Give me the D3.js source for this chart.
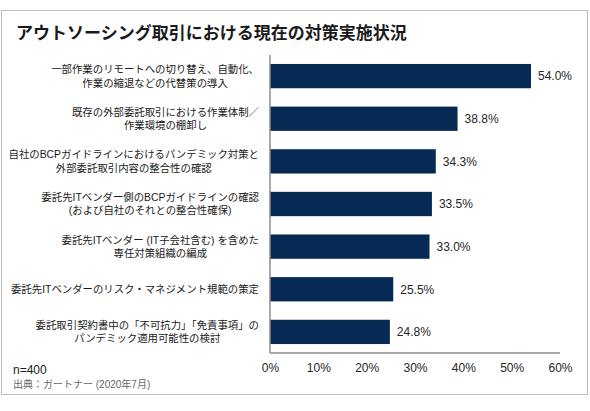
<!DOCTYPE html>
<html lang="ja">
<head>
    <meta charset="UTF-8">
    <title>アウトソーシング取引における現在の対策実施状況</title>
    <script src="https://d3js.org/d3.v7.min.js"></script>
    <style>
        body {
            margin: 0;
            background: #fff;
            font-family: "Liberation Sans", Arial, "Noto Sans CJK JP", sans-serif;
        }
        .frame {
            fill: none;
            stroke: #bdbdbd;
        }
        .title {
            font-family: "Liberation Sans", "Noto Sans CJK JP", sans-serif;
            font-size: 17px;
            font-weight: bold;
            fill: #1a1a1a;
        }
        .cat-label {
            font-size: 10.4px;
            fill: #1a1a1a;
        }
        .bar {
            fill: #062a54;
        }
        .value-label {
            font-size: 12px;
            fill: #262626;
        }
        .x-axis text {
            font-size: 12px;
            fill: #262626;
        }
        .axis-line {
            stroke: #8c8c8c;
            stroke-width: 1.5;
        }
        .note {
            font-size: 12px;
            fill: #1a1a1a;
        }
        .source {
            font-size: 10px;
            fill: #666;
        }
    </style>
</head>
<body>
    <svg width="590" height="411"></svg>
    <script>
        // 項目 (各行ごとに分割)
        const categories = [
            ["一部作業のリモートへの切り替え、自動化、", "作業の縮退などの代替策の導入"],
            ["既存の外部委託取引における作業体制／", "作業環境の棚卸し"],
            ["自社のBCPガイドラインにおけるパンデミック対策と", "外部委託取引内容の整合性の確認"],
            ["委託先ITベンダー側のBCPガイドラインの確認", "(および自社のそれとの整合性確保)"],
            ["委託先ITベンダー (IT子会社含む) を含めた", "専任対策組織の編成"],
            ["委託先ITベンダーのリスク・マネジメント規範の策定"],
            ["委託取引契約書中の「不可抗力」「免責事項」の", "パンデミック適用可能性の検討"]
        ];
        const values = [54.0, 38.8, 34.3, 33.5, 33.0, 25.5, 24.8];
        const ticks = [0, 10, 20, 30, 40, 50, 60];

        const titleText = "アウトソーシング取引における現在の対策実施状況";
        const noteText = "n=400";
        const sourceText = "出典：ガートナー (2020年7月)";

        const svg = d3.select("svg");

        svg.append("rect")
            .attr("class", "frame")
            .attr("x", 1.5)
            .attr("y", 10.5)
            .attr("width", 586)
            .attr("height", 384);

        svg.append("text")
            .attr("class", "title")
            .attr("x", 16)
            .attr("y", 33)
            .attr("dy", "0.36em")
            .text(titleText);

        const plot = {left: 270, right: 560, top: 55, bottom: 353};

        const x = d3.scaleLinear()
            .domain([0, 60])
            .range([plot.left, plot.right]);

        const y = d3.scaleBand()
            .domain(d3.range(categories.length))
            .range([plot.top, plot.bottom])
            .paddingInner(0.43)
            .paddingOuter(0.21);

        svg.selectAll(".bar")
            .data(values)
            .enter()
            .append("rect")
            .attr("class", "bar")
            .attr("x", x(0))
            .attr("y", (d, i) => y(i))
            .attr("width", d => x(d) - x(0))
            .attr("height", y.bandwidth());

        svg.selectAll(".value-label")
            .data(values)
            .enter()
            .append("text")
            .attr("class", "value-label")
            .attr("x", d => x(d) + 7)
            .attr("y", (d, i) => y(i) + y.bandwidth() / 2)
            .attr("dy", "0.36em")
            .text(d => d.toFixed(1) + "%");

        // 項目ラベル: 行は中央揃え、ブロック全体は右揃え
        const labelRight = 259;
        const lineHeight = 13.4;
        categories.forEach((lines, i) => {
            const cy = y(i) + y.bandwidth() / 2;
            const g = svg.append("g");
            const texts = lines.map((line, j) => g.append("text")
                .attr("class", "cat-label")
                .attr("text-anchor", "middle")
                .attr("y", cy + (j - (lines.length - 1) / 2) * lineHeight)
                .attr("dy", "0.36em")
                .text(line));
            const maxW = d3.max(texts, t => t.node().getComputedTextLength());
            texts.forEach(t => t.attr("x", labelRight - maxW / 2));
        });

        const xAxis = svg.append("g")
            .attr("class", "x-axis")
            .attr("transform", `translate(0,${plot.bottom})`)
            .call(d3.axisBottom(x)
                .tickValues(ticks)
                .tickSize(0)
                .tickPadding(10)
                .tickFormat(d => d + "%"));
        xAxis.select(".domain").remove();

        svg.append("line")
            .attr("class", "axis-line")
            .attr("x1", x(0))
            .attr("x2", x(60))
            .attr("y1", plot.bottom)
            .attr("y2", plot.bottom);

        svg.append("line")
            .attr("class", "axis-line")
            .attr("x1", x(0))
            .attr("x2", x(0))
            .attr("y1", plot.top)
            .attr("y2", plot.bottom);

        svg.append("text")
            .attr("class", "note")
            .attr("x", 13)
            .attr("y", 370)
            .attr("dy", "0.36em")
            .text(noteText);

        svg.append("text")
            .attr("class", "source")
            .attr("x", 13)
            .attr("y", 384)
            .attr("dy", "0.36em")
            .text(sourceText);
    </script>
</body>
</html>
